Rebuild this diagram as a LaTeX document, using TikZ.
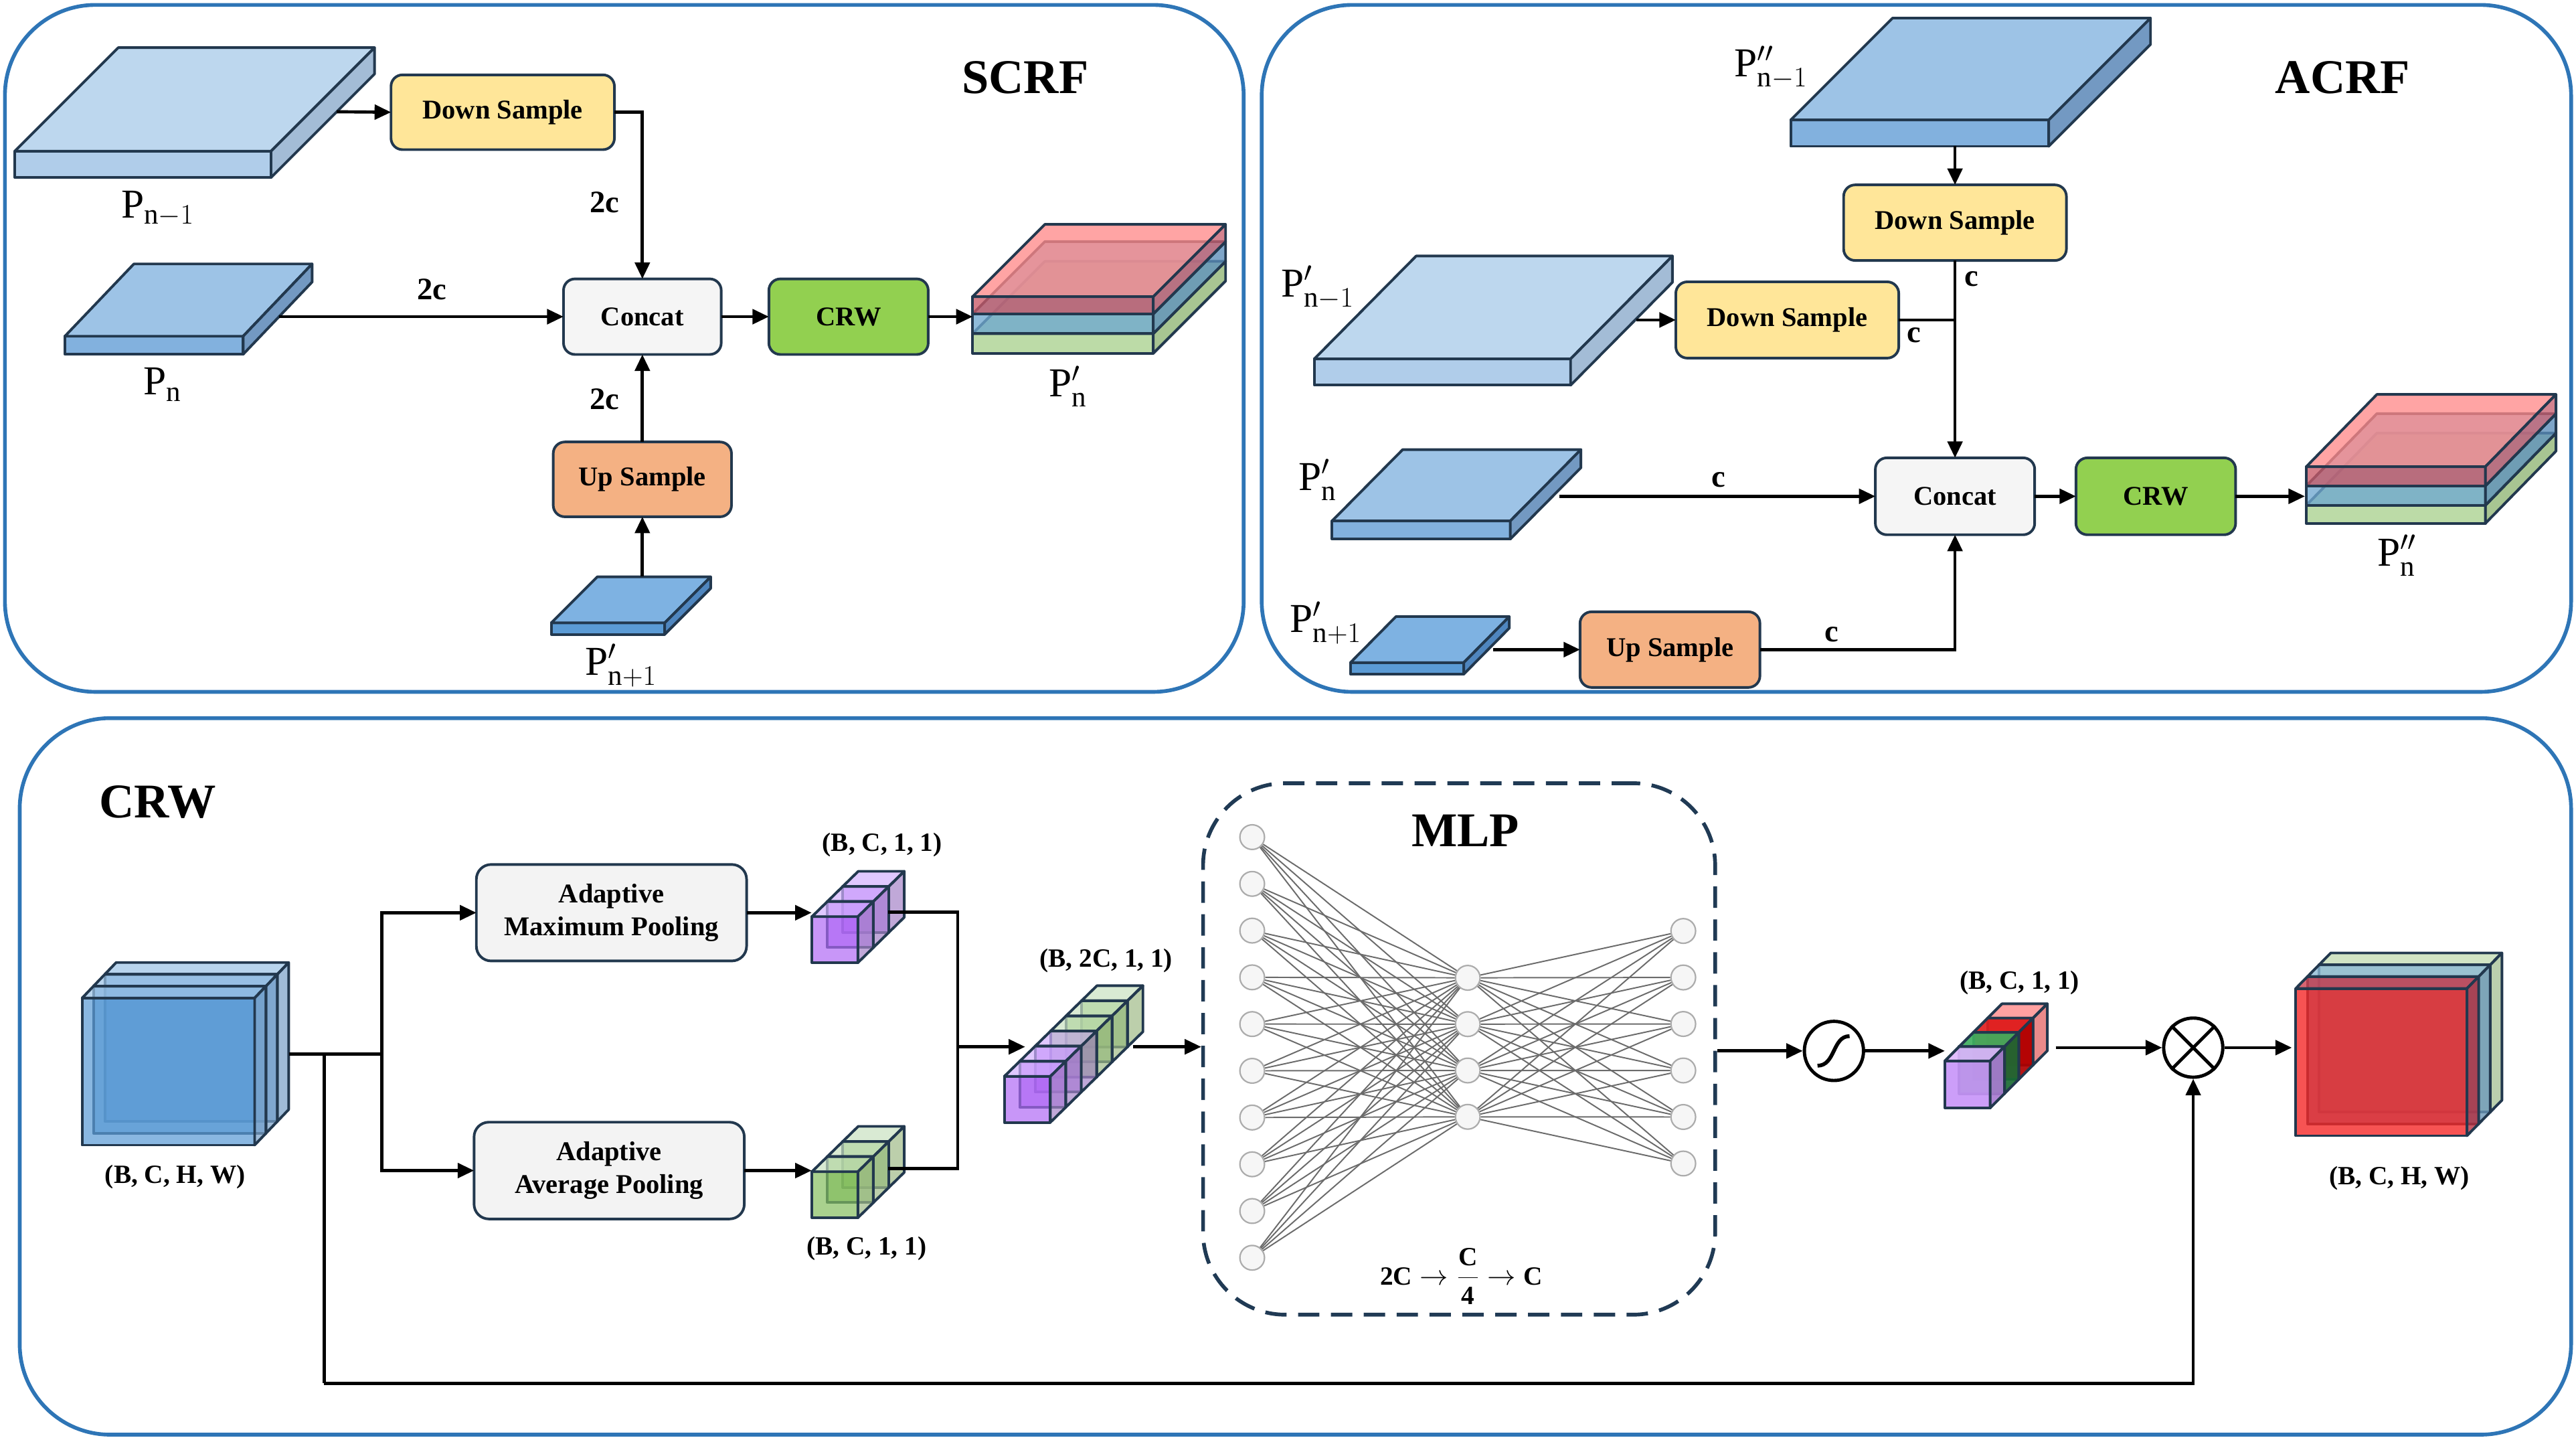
\documentclass[tikz,border=0pt]{standalone}
\usepackage{fontspec}
\setmainfont{Liberation Serif}
\usetikzlibrary{arrows.meta,calc}
\definecolor{panelblue}{HTML}{2E75B6}
\definecolor{edgec}{HTML}{22384E}
\definecolor{dsfill}{HTML}{FFE699}
\definecolor{catfill}{HTML}{F5F5F5}
\definecolor{crwfill}{HTML}{92D050}
\definecolor{usfill}{HTML}{F4B183}
\definecolor{poolfill}{HTML}{F3F3F3}
\definecolor{lt}{HTML}{BDD7EE}\definecolor{lf}{HTML}{B0CDEA}\definecolor{ls}{HTML}{A3BCD6}
\definecolor{mt}{HTML}{9DC3E6}\definecolor{mf}{HTML}{82B1DE}\definecolor{ms}{HTML}{7399C2}
\definecolor{dt}{HTML}{7EB2E2}\definecolor{df}{HTML}{5B9BD5}\definecolor{ds}{HTML}{4F86BF}
\definecolor{sgf}{HTML}{A9D18E}\definecolor{sgs}{HTML}{8FB573}
\definecolor{sbf}{HTML}{6FA8CF}\definecolor{sbs}{HTML}{5A8CB8}
\definecolor{srf}{HTML}{C85A68}\definecolor{srt}{HTML}{FF8A8A}\definecolor{srs}{HTML}{C86070}
\definecolor{bf}{HTML}{5B9BD5}\definecolor{bt}{HTML}{9DC3E6}\definecolor{bs}{HTML}{7BA2C9}
\definecolor{purf}{HTML}{B069F5}\definecolor{purt}{HTML}{D3B0FF}\definecolor{purs}{HTML}{A583C7}
\definecolor{grf}{HTML}{84BD5E}\definecolor{grt}{HTML}{C9E1C0}\definecolor{grs}{HTML}{9FBA88}
\definecolor{cpf}{HTML}{C896F8}\definecolor{cpt}{HTML}{DDB8FF}\definecolor{cps}{HTML}{A77BD0}
\definecolor{pkf}{HTML}{E02020}\definecolor{pkt}{HTML}{FF9999}\definecolor{pks}{HTML}{E88080}
\definecolor{rdf}{HTML}{C00000}\definecolor{rdt}{HTML}{E02020}\definecolor{rds}{HTML}{B00000}
\definecolor{dgf}{HTML}{1E7B3C}\definecolor{dgt}{HTML}{40B060}\definecolor{dgs}{HTML}{1A6A33}
\definecolor{ogf}{HTML}{C5DDB5}\definecolor{ogs}{HTML}{AAC49A}
\definecolor{obf}{HTML}{4A7FA8}\definecolor{obt}{HTML}{8DB9D5}\definecolor{obs}{HTML}{6A95B5}
\definecolor{orf}{HTML}{F52828}\definecolor{ort}{HTML}{D04050}\definecolor{ors}{HTML}{B83040}
\definecolor{mlpc}{HTML}{203A54}
\newcommand{\cub}[9]{%
  \filldraw[fill=#7,edgeline] (#1,#2) rectangle ++(#3,#4);
  \filldraw[fill=#8,edgeline] (#1,#2) -- ++(#5,-#6) -- ++(#3,0) -- ++(-#5,#6) -- cycle;
  \filldraw[fill=#9,edgeline] (#1+#3,#2) -- ++(#5,-#6) -- ++(0,#4) -- ++(-#5,#6) -- cycle;
}
\begin{document}
\begin{tikzpicture}[x=1pt,y=-1pt,
  panel/.style={draw=panelblue,line width=2.3,rounded corners=55},
  edgeline/.style={draw=edgec,line width=1.6,line join=round},
  box/.style={draw=edgec,line width=1.6,rounded corners=7,inner sep=0,outer sep=0,align=center,
    font=\fontsize{16.5}{20}\selectfont\bfseries},
  plab/.style={font=\fontsize{25}{30}\selectfont,inner sep=0},
  clab/.style={font=\fontsize{19}{22}\selectfont\bfseries,inner sep=0},
  dlab/.style={font=\fontsize{16}{19}\selectfont\bfseries,inner sep=0},
  ttl/.style={font=\fontsize{29.5}{34}\selectfont\bfseries,inner sep=0},
  ln/.style={line width=1.9,line join=miter},
  arr/.style={line width=1.9,-{Triangle[length=10,width=9]}},
  neuron/.style={circle,draw=gray!65,fill=gray!7,line width=0.9,minimum size=15,inner sep=0},
  nl/.style={draw=black!58,line width=0.8},
  opnode/.style={circle,draw,line width=2,minimum size=36,inner sep=0}
]
\useasboundingbox (0,0) rectangle (1568,876);

% ================= panels
\draw[panel] (3,3) rectangle (757,421);
\draw[panel] (768,3) rectangle (1565,421);
\draw[panel] (12,437) rectangle (1565,873);

% ================= SCRF
\node[ttl] (tscrf) at (624,47) {SCRF};
\cub{9}{92}{156}{16}{63}{63}{lf}{lt}{ls}
\node[plab] (lpa) at (96,127) {$\mathrm{P}_{\mathrm{n}-1}$};
\coordinate (pa) at (205,68);
\node[box,fill=dsfill,minimum width=136,minimum height=45.5] (dsa) at (306,68.3) {Down Sample};
\cub{39.5}{204.6}{108.5}{11}{42}{44}{mf}{mt}{ms}
\node[plab] (lpb) at (99,234) {$\mathrm{P}_{\mathrm{n}}$};
\coordinate (pb) at (170,192.7);
\node[box,fill=catfill,minimum width=96,minimum height=46] (cata) at (391,192.7) {Concat};
\node[box,fill=crwfill,minimum width=97,minimum height=46] (crwa) at (516.5,192.7) {CRW};
\node[box,fill=usfill,minimum width=108.5,minimum height=45.5] (usa) at (391,291.7) {Up Sample};
\cub{335.6}{379}{69}{7}{28}{28}{df}{dt}{ds}
\coordinate (pc) at (391,350.8);
\node[plab] (lpc) at (378,405) {$\mathrm{P}'_{\mathrm{n}+1}$};
\begin{scope}[fill opacity=0.78]
\cub{592}{203}{110}{12}{44}{44}{sgf}{sgf}{sgs}
\cub{592}{191}{110}{12}{44}{44}{sbf}{sbf}{sbs}
\cub{592}{180.5}{110}{10.5}{44}{44}{srf}{srt}{srs}
\end{scope}
\coordinate (sa) at (592,192.7);
\node[plab] (lpd) at (650,235) {$\mathrm{P}'_{\mathrm{n}}$};
\draw[arr] (pa) -- (dsa.west);
\draw[arr] (dsa.east) -| (cata.north);
\draw[arr] (pb) -- (cata.west);
\draw[arr] (usa.north) -- (cata.south);
\draw[arr] (pc) -- (usa.south);
\draw[arr] (cata.east) -- (crwa.west);
\draw[arr] (crwa.east) -- (sa);
\node[clab] (c1) at (368,123) {2c};
\node[clab] (c2) at (263,176) {2c};
\node[clab] (c3) at (368,243) {2c};

% ================= ACRF
\node[ttl] (tacrf) at (1426,47) {ACRF};
\cub{1090}{73}{157}{16}{62}{62}{mf}{mt}{ms}
\coordinate (qa) at (1190,89);
\node[plab] (lqa) at (1078,41) {$\mathrm{P}''_{\mathrm{n}-1}$};
\node[box,fill=dsfill,minimum width=135.6,minimum height=46] (dsb) at (1190,135.5) {Down Sample};
\cub{800}{218.4}{156}{16}{62}{62.6}{lf}{lt}{ls}
\node[plab] (lqb) at (802,175) {$\mathrm{P}'_{\mathrm{n}-1}$};
\coordinate (qb) at (996,194.7);
\node[box,fill=dsfill,minimum width=135.7,minimum height=46.4] (dsc) at (1087.9,194.7) {Down Sample};
\cub{810.8}{317}{108.5}{11}{43}{43.4}{mf}{mt}{ms}
\node[plab] (lqc) at (802,292) {$\mathrm{P}'_{\mathrm{n}}$};
\coordinate (qc) at (949,302);
\node[box,fill=catfill,minimum width=97,minimum height=46.8] (catb) at (1190,302) {Concat};
\node[box,fill=crwfill,minimum width=97.2,minimum height=46.8] (crwb) at (1312.2,302) {CRW};
\cub{822}{403.2}{69}{7}{27.7}{28}{df}{dt}{ds}
\node[plab] (lqd) at (807,379) {$\mathrm{P}'_{\mathrm{n}+1}$};
\coordinate (qd) at (909,395.3);
\node[box,fill=usfill,minimum width=109.5,minimum height=46] (usb) at (1016.5,395.3) {Up Sample};
\begin{scope}[fill opacity=0.78]
\cub{1403.8}{307.5}{109}{11}{43}{44}{sgf}{sgf}{sgs}
\cub{1403.8}{295.7}{109}{11.8}{43}{44}{sbf}{sbf}{sbs}
\cub{1403.8}{284}{109}{11.7}{43}{44}{srf}{srt}{srs}
\end{scope}
\coordinate (sb) at (1403,302);
\node[plab] (lqe) at (1459,338) {$\mathrm{P}''_{\mathrm{n}}$};
\draw[arr] (qa) -- (dsb.north);
\draw[arr] (dsb.south) -- (catb.north);
\draw[ln] (dsc.east) -- (dsc.east -| dsb.south);
\draw[arr] (qb) -- (dsc.west);
\draw[arr] (qc) -- (catb.west);
\draw[arr] (qd) -- (usb.west);
\draw[arr] (usb.east) -| (catb.south);
\draw[arr] (catb.east) -- (crwb.west);
\draw[arr] (crwb.east) -- (sb);
\node[clab] (c4) at (1200,169.6) {c};
\node[clab] (c5) at (1165,204) {c};
\node[clab] (c6) at (1046,292) {c};
\node[clab] (c7) at (1115,386) {c};

% ================= CRW
\node[ttl] (tcrw) at (96,488) {CRW};
\begin{scope}[fill opacity=0.72]
\foreach \i in {2,1,0}{\cub{50+6.9*\i}{607.3-7.2*\i}{105}{89.5}{6.9}{7.2}{bf}{bt}{bs}}
\end{scope}
\node[dlab] (lin) at (106.6,716.3) {(B, C, H, W)};
\coordinate (tin) at (176,641.3);
\coordinate (split) at (232.4,641.3);
\coordinate (skip0) at (197.3,641.3);
\coordinate (skip1) at (197.3,841.7);
\node[box,fill=poolfill,rounded corners=9,minimum width=164.5,minimum height=58.7] (amp) at (372.2,555.4) {Adaptive\\Maximum Pooling};
\node[box,fill=poolfill,rounded corners=9,minimum width=164.5,minimum height=58.9] (aap) at (370.8,712.3) {Adaptive\\Average Pooling};
\begin{scope}[fill opacity=0.7]
\foreach \i in {2,1,0}{\cub{494.2+9.4*\i}{557.8-9.2*\i}{28}{28}{9.4}{9.2}{purf}{purt}{purs}}
\foreach \i in {2,1,0}{\cub{494.2+9.4*\i}{713-9.2*\i}{28}{28}{9.4}{9.2}{grf}{grt}{grs}}
\foreach \i in {5,4,3}{\cub{611.3+9.4*\i}{655-9.2*\i}{28}{28}{9.4}{9.2}{grf}{grt}{grs}}
\foreach \i in {2,1,0}{\cub{611.3+9.4*\i}{655-9.2*\i}{28}{28}{9.4}{9.2}{purf}{purt}{purs}}
\end{scope}
\coordinate (pin) at (494,555.4);
\coordinate (gin) at (494,712.3);
\coordinate (pout) at (540.5,555);
\coordinate (gout) at (540.5,711);
\coordinate (mrg) at (583,637);
\coordinate (s2in) at (624,637);
\coordinate (s2out) at (689.8,637);
\node[dlab] (l1) at (537,514) {(B, C, 1, 1)};
\node[dlab] (l2) at (527.4,759.6) {(B, C, 1, 1)};
\node[dlab] (l3) at (673.3,584.7) {(B, 2C, 1, 1)};
\draw[ln] (tin) -- (split);
\draw[arr] (split) |- (amp.west);
\draw[arr] (split) |- (aap.west);
\draw[arr] (amp.east) -- (pin);
\draw[arr] (aap.east) -- (gin);
\draw[ln] (pout) -| (mrg);
\draw[ln] (gout) -| (mrg);
\draw[arr] (mrg) -- (s2in);

% MLP
\node[draw=mlpc,line width=2.3,dash pattern=on 13 off 7,rounded corners=50,minimum width=311.7,minimum height=323.4,inner sep=0] (mlp) at (888.15,638.3) {};
\node[ttl] (tmlp) at (892,505.4) {MLP};
\foreach \i in {0,...,9}{\node[neuron] (in\i) at (762.2,509.4+28.44*\i) {};}
\foreach \j in {0,...,3}{\node[neuron] (h\j) at (893.4,595+28.2*\j) {};}
\foreach \k in {0,...,5}{\node[neuron] (o\k) at (1024.6,566.5+28.3*\k) {};}
\foreach \i in {0,...,9}{\foreach \j in {0,...,3}{\draw[nl] (in\i) -- (h\j);}}
\foreach \j in {0,...,3}{\foreach \k in {0,...,5}{\draw[nl] (h\j) -- (o\k);}}
\node[inner sep=0,font=\fontsize{16}{19}\selectfont] (form) at (889.5,776.6) {$\mathbf{2C}\rightarrow{\displaystyle\frac{\mathbf{C}}{\mathbf{4}}}\rightarrow\mathbf{C}$};
\draw[arr] (s2out) -- (s2out -| mlp.west);

% sigmoid
\node[opnode] (sig) at (1116.3,639.5) {};
\draw[line width=2.3] ($(sig)+(-10,9)$) .. controls ($(sig)+(1,9)$) and ($(sig)+(-1,-9)$) .. ($(sig)+(9.5,-9)$);
\draw[arr] (sig -| mlp.east) -- (sig.west);
\begin{scope}[fill opacity=0.92]
\cub{1209.9}{619.5}{27.6}{28.6}{8.7}{8.7}{pkf}{pkt}{pks}
\cub{1201.2}{628.2}{27.6}{28.6}{8.7}{8.7}{rdf}{rdt}{rds}
\cub{1192.5}{636.9}{27.6}{28.6}{8.7}{8.7}{dgf}{dgt}{dgs}
\cub{1183.8}{645.6}{27.6}{28.6}{8.7}{8.7}{cpf}{cpt}{cps}
\end{scope}
\coordinate (csin) at (1183.8,639.5);
\coordinate (csout) at (1251.3,637.5);
\node[dlab] (l4) at (1229.3,598) {(B, C, 1, 1)};
\draw[arr] (sig.east) -- (csin);

% multiply
\node[opnode] (mul) at (1335,637.5) {};
\draw[line width=2] (mul.north west) -- (mul.south east);
\draw[line width=2] (mul.north east) -- (mul.south west);
\draw[arr] (csout) -- (mul.west);
\coordinate (oin) at (1395,637.5);
\draw[arr] (mul.east) -- (oin);
\draw[ln] (skip0) -- (skip1);
\draw[arr] (skip1) -| (mul.south);

% output block
\begin{scope}[fill opacity=0.8]
\cub{1397.4+14.2}{601.5-14.4}{104.2}{89.6}{7.1}{7.2}{ogf}{ogf}{ogs}
\cub{1397.4+7.1}{601.5-7.2}{104.2}{89.6}{7.1}{7.2}{obf}{obt}{obs}
\cub{1397.4}{601.5}{104.2}{89.6}{7.1}{7.2}{orf}{ort}{ors}
\end{scope}
\node[dlab] (lout) at (1460.4,717) {(B, C, H, W)};
\end{tikzpicture}
\end{document}
